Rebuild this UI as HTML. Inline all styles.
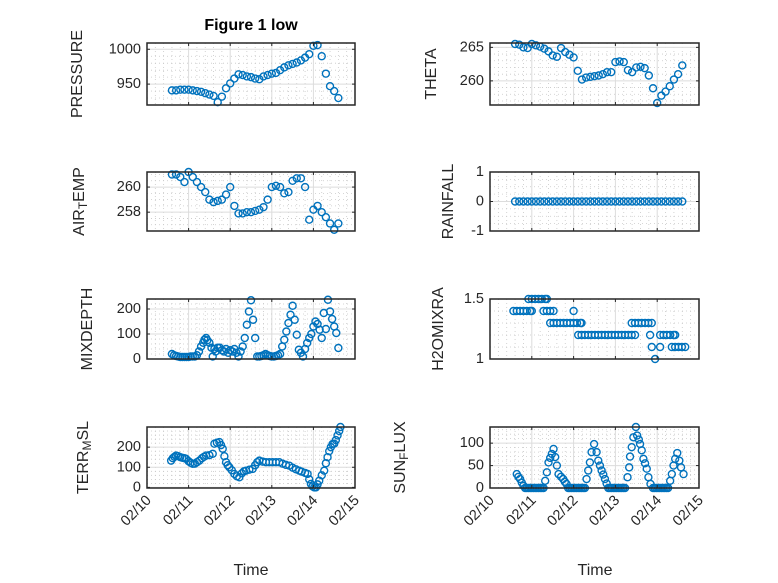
<!DOCTYPE html>
<html><head><meta charset="utf-8">
<style>
body{margin:0;background:#fff;}
svg{display:block;font-family:"Liberation Sans",sans-serif;}
</style></head>
<body>
<svg id="fig" width="778" height="583" viewBox="0 0 778 583" xmlns="http://www.w3.org/2000/svg">
<rect width="778" height="583" fill="#fff"/>
<text x="251" y="30" text-anchor="middle" font-size="16" font-weight="bold" fill="#000">Figure 1 low</text>
<text x="251" y="575" text-anchor="middle" font-size="16" fill="#262626">Time</text>
<text x="595" y="575" text-anchor="middle" font-size="16" fill="#262626">Time</text>
</svg>
<script>
const xTickLabels = ["02/10","02/11","02/12","02/13","02/14","02/15"];
const times = [0.6,0.7,0.8,0.9,1.0,1.1,1.2,1.3,1.4,1.5,1.6,1.7,1.8,1.9,2.0,2.1,2.2,2.3,2.4,2.5,2.6,2.7,2.8,2.9,3.0,3.1,3.2,3.3,3.4,3.5,3.6,3.7,3.8,3.9,4.0,4.1,4.2,4.3,4.4,4.5,4.6];
const pressure = [941,941,942,942,942,941,940,939,937,935,933,924,932,944,951,958,964,963,961,960,958,957,961,963,965,966,970,974,977,979,981,984,988,993,1005,1006,990,965,947,940,930];
const airTemp = [261.0,261.0,260.8,260.4,261.2,260.8,260.4,260.0,259.6,259.0,258.8,258.9,259.0,259.4,260.0,258.5,257.9,257.9,258.0,258.0,258.1,258.2,258.4,259.0,260.0,260.1,260.0,259.5,259.6,260.5,260.7,260.7,260.0,257.4,258.2,258.5,258.0,257.6,257.1,256.6,257.1];
const theta = [265.5,265.4,265.0,264.9,265.5,265.3,265.1,264.8,264.4,263.8,263.6,264.9,264.3,263.9,263.5,261.5,260.2,260.5,260.6,260.7,260.8,261.0,261.3,261.3,262.8,262.9,262.8,261.6,261.3,262.0,262.1,261.9,260.8,258.9,256.7,257.8,258.4,259.2,260.2,261.0,262.3];
const rainfall = [0,0,0,0,0,0,0,0,0,0,0,0,0,0,0,0,0,0,0,0,0,0,0,0,0,0,0,0,0,0,0,0,0,0,0,0,0,0,0,0,0];
const mixT = [0.6,0.65,0.7,0.75,0.8,0.85,0.9,0.95,1.0,1.05,1.1,1.15,1.2,1.25,1.3,1.35,1.38,1.42,1.45,1.5,1.55,1.58,1.62,1.65,1.7,1.75,1.8,1.85,1.9,1.95,2.0,2.05,2.1,2.15,2.2,2.25,2.3,2.35,2.4,2.45,2.5,2.55,2.6,2.65,2.7,2.75,2.8,2.85,2.9,2.95,3.0,3.05,3.1,3.15,3.2,3.25,3.3,3.35,3.4,3.45,3.5,3.55,3.6,3.65,3.7,3.75,3.8,3.85,3.9,3.95,4.0,4.05,4.1,4.15,4.2,4.25,4.3,4.35,4.4,4.45,4.5,4.55,4.6];
const mixV = [20,15,12,10,8,8,8,8,8,10,10,10,15,30,50,65,77,84,75,65,45,10,40,30,45,45,35,30,40,25,35,30,40,25,10,30,50,84,137,190,235,157,84,10,10,12,15,20,15,12,10,10,12,15,20,50,77,110,144,177,213,157,97,37,25,10,40,64,84,100,130,150,140,117,84,184,120,237,190,160,130,104,44];
const h2oT = [0.56,0.64,0.72,0.8,0.88,0.96,1.0,0.92,1.0,1.08,1.16,1.24,1.32,1.36,1.28,1.36,1.44,1.52,2.0,1.44,1.52,1.6,1.68,1.76,1.84,1.92,2.0,2.08,2.16,2.19,2.11,2.19,2.27,2.35,2.43,2.51,2.59,2.67,2.75,2.83,2.91,2.99,3.07,3.15,3.23,3.31,3.39,3.47,3.39,3.47,3.55,3.63,3.71,3.79,3.87,3.83,3.87,4.07,3.95,4.07,4.15,4.23,4.31,4.39,4.43,4.35,4.43,4.51,4.59,4.67];
const h2oV = [1.4,1.4,1.4,1.4,1.4,1.4,1.4,1.5,1.5,1.5,1.5,1.5,1.5,1.5,1.4,1.4,1.4,1.4,1.4,1.3,1.3,1.3,1.3,1.3,1.3,1.3,1.3,1.3,1.3,1.3,1.2,1.2,1.2,1.2,1.2,1.2,1.2,1.2,1.2,1.2,1.2,1.2,1.2,1.2,1.2,1.2,1.2,1.2,1.3,1.3,1.3,1.3,1.3,1.3,1.3,1.2,1.1,1.1,1.0,1.2,1.2,1.2,1.2,1.2,1.2,1.1,1.1,1.1,1.1,1.1];
const terrT = [0.58,0.62,0.66,0.7,0.75,0.8,0.85,0.9,0.94,1.0,1.05,1.1,1.15,1.2,1.26,1.32,1.37,1.42,1.5,1.58,1.62,1.68,1.74,1.78,1.82,1.86,1.9,1.94,1.98,2.04,2.1,2.16,2.22,2.28,2.33,2.38,2.46,2.54,2.6,2.65,2.7,2.78,2.86,2.94,3.02,3.1,3.18,3.26,3.34,3.42,3.5,3.58,3.66,3.72,3.8,3.86,3.9,3.94,3.98,4.02,4.06,4.1,4.14,4.2,4.26,4.3,4.34,4.38,4.42,4.46,4.5,4.54,4.58,4.62,4.65];
const terrV = [133,145,152,158,155,150,147,145,142,130,122,117,118,125,133,145,152,158,160,167,217,222,225,210,192,155,125,110,100,85,67,55,50,70,80,83,88,92,110,125,133,128,125,125,125,125,125,118,112,108,98,90,83,78,72,67,40,17,5,0,0,15,33,60,83,120,150,180,200,215,217,235,258,280,300];
const sunT = [0.64,0.68,0.72,0.76,0.8,0.84,0.88,0.92,0.96,1.0,1.04,1.08,1.12,1.16,1.2,1.24,1.28,1.32,1.36,1.4,1.44,1.48,1.52,1.56,1.6,1.64,1.7,1.75,1.79,1.83,1.87,1.91,1.95,1.99,2.03,2.07,2.11,2.15,2.19,2.23,2.27,2.31,2.35,2.39,2.43,2.49,2.55,2.59,2.63,2.67,2.71,2.75,2.79,2.83,2.87,2.91,2.95,2.99,3.03,3.07,3.11,3.15,3.19,3.23,3.29,3.33,3.35,3.39,3.43,3.49,3.52,3.56,3.59,3.63,3.67,3.71,3.75,3.79,3.84,3.9,3.94,3.98,4.02,4.06,4.1,4.14,4.18,4.22,4.26,4.31,4.35,4.39,4.43,4.48,4.53,4.57,4.63];
const sunV = [31,25,20,12,5,0,0,0,0,0,0,0,0,0,0,0,0,16,35,57,67,76,87,69,50,31,25,20,14,9,0,0,0,0,0,0,0,0,0,0,0,20,39,57,80,98,80,61,50,39,30,20,10,0,0,0,0,0,0,0,0,0,0,0,24,46,70,91,113,136,117,108,98,84,65,55,43,24,9,0,0,0,0,0,0,0,0,0,0,16,31,50,65,78,61,46,31];

const NS = "http://www.w3.org/2000/svg";
const svg = document.getElementById('fig');
function mk(tag, attrs, parent){ const e=document.createElementNS(NS,tag); for(const k in attrs) e.setAttribute(k,attrs[k]); (parent||svg).appendChild(e); return e; }

function panel(c){
  const g = mk('g',{});
  
  
  const X = d => c.x0 + d/5*c.w;
  const Y = v => c.y0 + c.h - (v - c.ylim[0])/(c.ylim[1]-c.ylim[0])*c.h;
  for(let d=0; d<=5.0001; d+=0.2){ const x=X(d); const major=Math.abs(d-Math.round(d))<1e-6;
    const l=mk('line',{x1:x,x2:x,y1:c.y0,y2:c.y0+c.h,stroke:major?'#dcdcdc':'#c8c8c8','stroke-width':major?1:0.8,'stroke-dasharray':major?'':'1 3'},g);
    
    
  }
  for(let v=Math.ceil(c.ylim[0]/c.minor)*c.minor; v<=c.ylim[1]+1e-9; v+=c.minor){ const y=Y(v);
    const major=c.yticks.some(t=>Math.abs(t-v)<1e-6);
    const l=mk('line',{x1:c.x0,x2:c.x0+c.w,y1:y,y2:y,stroke:major?'#dcdcdc':'#c8c8c8','stroke-width':major?1:0.8,'stroke-dasharray':major?'':'1 3'},g);
    
    
  }
  for(let i=0;i<c.t.length;i++){
    const p=mk('circle',{cx:X(c.t[i]),cy:Y(c.v[i]),r:3.5,fill:'none',stroke:'#0072BD','stroke-width':1.4},g);
    
    
  }
  const b=mk('rect',{x:c.x0,y:c.y0,width:c.w,height:c.h,fill:'none',stroke:'#262626','stroke-width':1.5},g);
  
  
  c.yticks.forEach(t=>{ const y=Y(t);
    mk('line',{x1:c.x0,x2:c.x0+3,y1:y,y2:y,stroke:'#262626','stroke-width':1},g);
    mk('line',{x1:c.x0+c.w-3,x2:c.x0+c.w,y1:y,y2:y,stroke:'#262626','stroke-width':1},g);
    const tx=mk('text',{x:c.x0-6,y:y,'text-anchor':'end','dominant-baseline':'central','font-size':14.5,fill:'#262626'},g);
    tx.textContent = String(t);
    
    
  });
  for(let d=0; d<=5; d++){ const x=X(d);
    mk('line',{x1:x,x2:x,y1:c.y0+c.h,y2:c.y0+c.h-3,stroke:'#262626','stroke-width':1},g);
    mk('line',{x1:x,x2:x,y1:c.y0,y2:c.y0+3,stroke:'#262626','stroke-width':1},g);
    if(c.showX){
      const ax=x+5, ay=c.y0+c.h+13;
      const tx=mk('text',{x:ax,y:ay,'text-anchor':'end','font-size':14.5,fill:'#262626',transform:'rotate(-45 '+ax+' '+ay+')'},g);
      tx.textContent = xTickLabels[d];
      
      
    }
  }
  const cy=c.y0+c.h/2;
  const lab=mk('text',{x:c.lx,y:cy,'text-anchor':'middle','dominant-baseline':'central','font-size':16,fill:'#262626',transform:'rotate(-90 '+c.lx+' '+cy+')'},g);
  
  
  c.label.forEach(part=>{ const ts=mk('tspan',{},lab); ts.textContent=part[0];
    if(part[1]==='sub'){ ts.setAttribute('baseline-shift','-30%'); ts.setAttribute('font-size','12'); } });
}

const L=147, LW=208, R=490, RW=209;
panel({name:'pressure',x0:L,w:LW,y0:43,h:62,ylim:[920,1009],yticks:[950,1000],minor:10,t:times,v:pressure,lx:77,label:[['PRESSURE']]});
panel({name:'air-temp',x0:L,w:LW,y0:172,h:59,ylim:[256.5,261.2],yticks:[258,260],minor:0.5,t:times,v:airTemp,lx:79,label:[['AIR'],['T','sub'],['EMP']]});
panel({name:'mixdepth',x0:L,w:LW,y0:299,h:60,ylim:[0,240],yticks:[0,100,200],minor:20,t:mixT,v:mixV,lx:87,label:[['MIXDEPTH']]});
panel({name:'terr-msl',x0:L,w:LW,y0:427,h:61,ylim:[-3,300],yticks:[0,100,200],minor:20,t:terrT,v:terrV,lx:83,label:[['TERR'],['M','sub'],['SL']],showX:true});
panel({name:'theta',x0:R,w:RW,y0:43,h:62,ylim:[256.4,265.65],yticks:[260,265],minor:1,t:times,v:theta,lx:431,label:[['THETA']]});
panel({name:'rainfall',x0:R,w:RW,y0:172,h:59,ylim:[-1,1],yticks:[-1,0,1],minor:0.25,t:times,v:rainfall,lx:448,label:[['RAINFALL']]});
panel({name:'h2omixra',x0:R,w:RW,y0:299,h:60,ylim:[1,1.5],yticks:[1,1.5],minor:0.1,t:h2oT,v:h2oV,lx:438,label:[['H2OMIXRA']]});
panel({name:'sun-flux',x0:R,w:RW,y0:427,h:61,ylim:[0,136],yticks:[0,50,100],minor:10,t:sunT,v:sunV,lx:400,label:[['SUN'],['F','sub'],['LUX']],showX:true});
</script>
</body></html>
